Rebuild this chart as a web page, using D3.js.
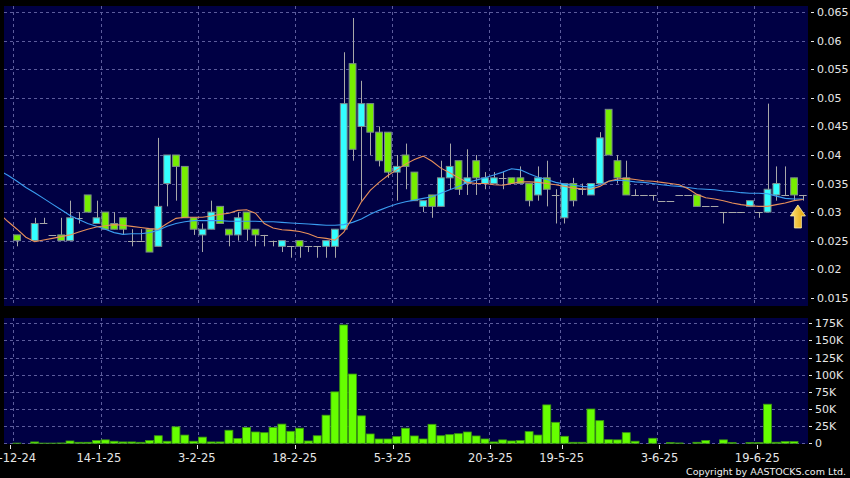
<!DOCTYPE html>
<html><head><meta charset="utf-8">
<script src="https://cdn.jsdelivr.net/npm/d3@7"></script>
<style>html,body{margin:0;padding:0;background:#000;}svg{display:block;font-family:"DejaVu Sans",Verdana,sans-serif;}</style>
</head><body><svg id="c" width="850" height="478"></svg>
<script>
// ---- data ----
const tickLabels = ["30-12-24","14-1-25","3-2-25","18-2-25","5-3-25","20-3-25","19-5-25","3-6-25","19-6-25"];
const tickIdx    = [0,10,21,32,43,54,62,73,84];
const N = 91;
const open  = [null,.026,null,.025,.028,.026,.026,.025,.029,.033,.028,.030,.028,.029,.025,.025,.027,.024,.035,.040,.038,.029,.026,.027,.031,.027,.026,.030,.027,.026,.025,.024,.024,.025,.024,.024,.024,.024,.027,.056,.045,.049,.044,.044,.037,.040,.037,.031,.033,.031,.036,.039,.035,.039,.035,.035,.036,.036,.036,.035,.033,.036,.033,.029,.035,.034,.033,.035,.048,.039,.036,.033,.033,.033,.032,.032,.033,.033,.033,.031,.031,.030,.030,.030,.031,.030,.030,.033,.033,.036,.033];
const high  = [null,.026,null,.029,.029,.026,.029,.032,.030,.033,.032,.030,.030,.029,.027,.027,.027,.043,.040,.040,.038,.029,.028,.032,.031,.027,.030,.030,.027,.026,.025,.025,.024,.025,.024,.024,.025,.027,.058,.064,.053,.049,.045,.044,.040,.042,.037,.032,.033,.039,.042,.039,.041,.040,.037,.037,.037,.036,.038,.035,.038,.039,.034,.035,.036,.035,.035,.044,.048,.040,.039,.034,.033,.033,.032,.032,.033,.033,.033,.031,.031,.030,.030,.030,.032,.030,.049,.038,.038,.036,.033];
const low   = [null,.024,null,.025,.028,.026,.025,.025,.028,.030,.028,.027,.027,.026,.024,.025,.023,.024,.031,.032,.029,.026,.023,.027,.028,.024,.025,.025,.024,.024,.024,.023,.022,.022,.023,.022,.022,.022,.027,.039,.032,.040,.038,.036,.032,.034,.032,.030,.029,.031,.034,.033,.033,.033,.034,.035,.034,.035,.035,.031,.032,.031,.028,.028,.031,.033,.033,.035,.040,.035,.033,.033,.033,.032,.032,.032,.033,.033,.031,.031,.031,.028,.030,.030,.031,.029,.030,.032,.033,.032,.032];
const close = [null,.025,null,.028,.028,.026,.025,.029,.029,.030,.029,.027,.027,.027,.025,.025,.023,.031,.040,.038,.029,.027,.027,.030,.028,.026,.029,.027,.026,.026,.025,.025,.024,.024,.024,.024,.025,.027,.049,.041,.049,.044,.039,.037,.038,.038,.032,.032,.031,.036,.038,.034,.036,.036,.036,.036,.036,.035,.035,.032,.036,.034,.033,.035,.032,.034,.035,.043,.040,.036,.033,.033,.033,.033,.032,.032,.033,.033,.031,.031,.031,.030,.030,.030,.032,.030,.034,.035,.033,.033,.033];
const volumeK = [0,0.3,0,2,0.3,0.3,0.5,3.4,1.5,1.5,4,5,3,2,2,1.5,4,11,3,24,12,3,9,2,2,19,7,23,16.5,15.5,23,28,17.5,22,3.4,11,41,75,172.6,101,40,13.6,6.3,6.3,9.7,22,10.7,6.3,27.7,11,12.6,14,16.5,10.7,6.3,2,5,3.4,4,17,12,56,30.6,10.2,1.5,1.5,50,33,5.3,5,15.5,3,0,7.3,0,1,0.5,0,1.5,4,0,5,1,0,1,1,57,1.5,2.5,2.5,0];
// moving averages, first value belongs to the day before index 0
const maStart = -1;
const ma10 = [.0297,.0283,.0270,.0256,.0248,.0251,.0254,.0257,.0260,.0265,.0270,.0274,.0276,.0278,.0277,.0275,.0273,.0271,.0270,.0280,.0289,.0291,.0291,.0291,.0293,.0296,.0298,.0303,.0304,.0298,.0280,.0272,.0269,.0268,.0266,.0262,.0256,.0254,.0251,.0265,.0290,.0318,.0338,.0352,.0364,.0374,.0384,.0392,.0398,.0389,.0377,.0369,.0360,.0352,.0350,.0350,.0348,.0347,.0350,.0353,.0353,.0352,.0350,.0348,.0345,.0342,.0341,.0340,.0345,.0354,.0358,.0359,.0357,.0355,.0354,.0352,.0350,.0348,.0341,.0331,.0325,.0323,.0320,.0316,.0313,.0311,.0310,.0310,.0313,.0316,.0320,.0322];
const ma20 = [.0373,.0364,.0354,.0343,.0334,.0324,.0314,.0304,.0294,.0287,.0280,.0275,.0270,.0264,.0261,.0262,.0262,.0264,.0268,.0275,.0280,.0283,.0285,.0285,.0285,.0285,.0284,.0284,.0284,.0284,.0283,.0283,.0282,.0281,.0280,.0279,.0278,.0277,.0277,.0278,.0282,.0288,.0296,.0303,.0309,.0314,.0318,.0321,.0324,.0327,.0333,.0339,.0345,.0352,.0356,.0360,.0365,.0370,.0376,.0374,.0367,.0361,.0357,.0352,.0349,.0347,.0345,.0344,.0348,.0354,.0356,.0355,.0353,.0352,.0350,.0348,.0346,.0345,.0343,.0341,.0340,.0339,.0337,.0336,.0334,.0333,.0333,.0332,.0328,.0324,.0323,.0323];
const priceTicks = [0.015,0.02,0.025,0.03,0.035,0.04,0.045,0.05,0.055,0.06,0.065];
const priceTickLabels = ["0.015","0.02","0.025","0.03","0.035","0.04","0.045","0.05","0.055","0.06","0.065"];
const volTicks = [0,25,50,75,100,125,150,175];
const volTickLabels = ["0","25K","50K","75K","100K","125K","150K","175K"];

// ---- layout ----
const svg = d3.select("#c");
const P = {l:4, r:808, t:6, b:306};
const V = {l:4, r:808, t:318, b:444};
const cUp = "#33ffff", cDown = "#77ee00", cWick = "#a8a8a8", cEdge = "#7c8c8c";
const gridC = "#5c5c9c";

svg.append("rect").attr("width",850).attr("height",478).attr("fill","#000");
svg.append("rect").attr("x",P.l).attr("y",P.t).attr("width",P.r-P.l).attr("height",P.b-P.t).attr("fill","#000044");
svg.append("rect").attr("x",V.l).attr("y",V.t).attr("width",V.r-V.l).attr("height",V.b-V.t).attr("fill","#000044");
const defs = svg.append("defs");
defs.append("clipPath").attr("id","cp").append("rect").attr("x",P.l).attr("y",P.t).attr("width",P.r-P.l).attr("height",P.b-P.t);
defs.append("clipPath").attr("id","cv").append("rect").attr("x",V.l).attr("y",V.t).attr("width",V.r-V.l).attr("height",V.b-V.t);

const x = d3.scaleBand().domain(d3.range(N)).range([3.8, 807.3]).paddingInner(0).paddingOuter(0);
const step = x.step();
const cx = i => x(0) + step*(i+0.5);
// date-label axis runs on its own slightly wider scale
const xLab = d3.scaleLinear().domain([0,84]).range([10,757.3]);
const yP = d3.scaleLinear().domain([0.015,0.065]).range([297.7,12.3]);
const yV = d3.scaleLinear().domain([0,175]).range([443.3,323.3]);

// grids
const gP = svg.append("g").attr("clip-path","url(#cp)");
const gV = svg.append("g").attr("clip-path","url(#cv)");
[[gP,P],[gV,V]].forEach(([g,R])=>{
  g.selectAll("line.vg").data(tickIdx).enter().append("line")
    .attr("x1",d=>Math.round(x(d)+step)+0.5).attr("x2",d=>Math.round(x(d)+step)+0.5)
    .attr("y1",R.t).attr("y2",R.b).attr("stroke",gridC).attr("stroke-dasharray","3,3");
});
gP.selectAll("line.hg").data(priceTicks).enter().append("line")
  .attr("x1",P.l).attr("x2",P.r).attr("y1",d=>Math.round(yP(d))+0.5).attr("y2",d=>Math.round(yP(d))+0.5)
  .attr("stroke",gridC).attr("stroke-dasharray","3,3");
gV.selectAll("line.hg").data(volTicks).enter().append("line")
  .attr("x1",V.l).attr("x2",V.r).attr("y1",d=>Math.round(yV(d))+0.5).attr("y2",d=>Math.round(yV(d))+0.5)
  .attr("stroke",gridC).attr("stroke-dasharray","3,3");

// candles
const days = d3.range(N).filter(i=>open[i]!==null);
const cg = gP.append("g");
cg.selectAll("line.wick").data(days).enter().append("line")
  .attr("x1",i=>Math.round(cx(i))+0.5).attr("x2",i=>Math.round(cx(i))+0.5)
  .attr("y1",i=>yP(high[i])).attr("y2",i=>yP(low[i]))
  .attr("stroke",cWick).attr("stroke-width",1);
cg.selectAll("line.flat").data(days.filter(i=>open[i]===close[i])).enter().append("line")
  .attr("x1",i=>cx(i)-3.8).attr("x2",i=>cx(i)+3.8)
  .attr("y1",i=>Math.round(yP(open[i]))+0.5).attr("y2",i=>Math.round(yP(open[i]))+0.5)
  .attr("stroke",cWick).attr("stroke-width",1);
cg.selectAll("rect.body").data(days.filter(i=>open[i]!==close[i])).enter().append("rect")
  .attr("x",i=>cx(i)-3.4).attr("width",6.8)
  .attr("y",i=>yP(Math.max(open[i],close[i])))
  .attr("height",i=>Math.abs(yP(open[i])-yP(close[i])))
  .attr("fill",i=>close[i]>open[i]?cUp:cDown)
  .attr("stroke",cEdge).attr("stroke-width",1);

// moving averages
const lineGen = d3.line().x((d,k)=>cx(k+maStart)).y(d=>yP(d));
gP.append("path").datum(ma20).attr("d",lineGen).attr("fill","none").attr("stroke","#3a9cf0").attr("stroke-width",1.1);
gP.append("path").datum(ma10).attr("d",lineGen).attr("fill","none").attr("stroke","#e8905a").attr("stroke-width",1.1);

// volume
gV.selectAll("rect.vol").data(d3.range(N).filter(i=>volumeK[i]>0)).enter().append("rect")
  .attr("x",i=>x(i)+0.4).attr("width",step-0.9)
  .attr("y",i=>yV(volumeK[i])).attr("height",i=>yV(0)-yV(volumeK[i]))
  .attr("fill","#66ff00").attr("stroke","#3c9a10").attr("stroke-width",0.8);

// right axes
const axC = "#e6e6e6";
const pa = svg.append("g");
pa.selectAll("line").data(priceTicks).enter().append("line")
  .attr("x1",811).attr("x2",814).attr("y1",d=>Math.round(yP(d))+0.5).attr("y2",d=>Math.round(yP(d))+0.5).attr("stroke",axC);
pa.selectAll("text").data(priceTicks).enter().append("text")
  .attr("x",817).attr("y",d=>yP(d)+4).attr("fill",axC).attr("font-size",11).text((d,k)=>priceTickLabels[k]);
const va = svg.append("g");
va.selectAll("line").data(volTicks).enter().append("line")
  .attr("x1",809).attr("x2",812).attr("y1",d=>Math.round(yV(d))+0.5).attr("y2",d=>Math.round(yV(d))+0.5).attr("stroke",axC);
va.selectAll("text").data(volTicks).enter().append("text")
  .attr("x",815).attr("y",d=>yV(d)+4).attr("fill",axC).attr("font-size",11).text((d,k)=>volTickLabels[k]);

// bottom axis
const ba = svg.append("g");
ba.selectAll("line").data(tickIdx).enter().append("line")
  .attr("x1",d=>Math.round(xLab(d))+0.5).attr("x2",d=>Math.round(xLab(d))+0.5)
  .attr("y1",445).attr("y2",449).attr("stroke",axC);
ba.selectAll("text").data(tickIdx).enter().append("text")
  .attr("x",d=>xLab(d)).attr("y",461.5).attr("text-anchor","middle")
  .attr("fill",axC).attr("font-size",11.5).text((d,k)=>tickLabels[k]);

svg.append("text").attr("x",846).attr("y",474.5).attr("text-anchor","end")
  .attr("fill","#f0f0f0").attr("font-size",9.5).text("Copyright by AASTOCKS.com Ltd.");

// last-price arrow
const last = N-1;
const grad = defs.append("linearGradient").attr("id","ag").attr("x1","0").attr("x2","1").attr("y1","0").attr("y2","0");
grad.append("stop").attr("offset","0").attr("stop-color","#ffe27a");
grad.append("stop").attr("offset","1").attr("stop-color","#e0a000");
const ax0 = cx(last)-5, ay0 = yP(close[last])+10;
const ap = d3.path();
ap.moveTo(ax0, ay0); ap.lineTo(ax0+7.5, ay0+11); ap.lineTo(ax0+3.5, ay0+11); ap.lineTo(ax0+3.5, ay0+23);
ap.lineTo(ax0-3.5, ay0+23); ap.lineTo(ax0-3.5, ay0+11); ap.lineTo(ax0-7.5, ay0+11); ap.closePath();
svg.append("path").attr("d",ap.toString()).attr("fill","url(#ag)").attr("stroke","#fff0a8").attr("stroke-width",0.8);
</script></body></html>
